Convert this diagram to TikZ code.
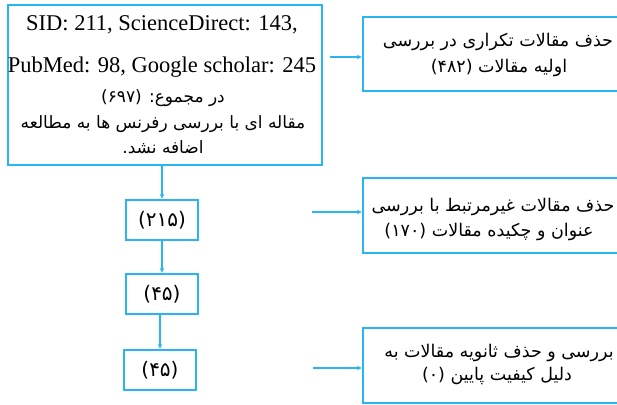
\documentclass[tikz,border=0pt]{standalone}
\usepackage{fontspec}
\setmainfont{Liberation Serif}
\newfontfamily\fa[Script=Arabic]{DejaVu Sans}
\TeXXeTstate=1
\usetikzlibrary{arrows.meta}
\definecolor{lineblue}{RGB}{41,182,240}
\tikzset{
  box/.style={draw=lineblue, line width=1.3pt, rectangle, inner sep=0pt},
  arr/.style={draw=lineblue, line width=1.1pt, -{Latex[length=5pt,width=4.5pt]}},
  en/.style={anchor=base, inner sep=0pt, font=\fontsize{22.5}{26}\selectfont},
  faline/.style={anchor=base, inner sep=0pt, font=\fa\fontsize{17}{20}\selectfont},
  rline/.style={anchor=base, inner sep=0pt, font=\fa\fontsize{17.5}{20}\selectfont},
  numtext/.style={inner sep=0pt, font=\fa\fontsize{20}{22}\selectfont}
}
\begin{document}
\begin{tikzpicture}[x=1pt,y=-1pt]
\useasboundingbox (0,0) rectangle (617,404);
\begin{scope}
\clip (0,0) rectangle (617,404);
% main box
\node[box, minimum width=314pt, minimum height=160pt] (big) at (165,85) {};
\node[en] (l1) at (162,30.5) {SID: 211, ScienceDirect: 143,};
\node[en] (l2) at (162,72) {PubMed: 98, Google scholar: 245};
\node[faline] (l3) at (163,102) {\beginR در مجموع: (۶۹۷)\endR};
\node[faline] (l4) at (163,128) {\beginR مقاله ای با بررسی رفرنس ها به مطالعه\endR};
\node[faline] (l5) at (163,153) {\beginR اضافه نشد.\endR};
% count boxes
\node[box, minimum width=72pt, minimum height=40pt] (b1) at (162,220) {};
\node[numtext] (t1) at (b1) {\beginR(۲۱۵)\endR};
\node[box, minimum width=72pt, minimum height=40pt] (b2) at (162,294) {};
\node[numtext] (t2) at (b2) {\beginR(۴۵)\endR};
\node[box, minimum width=72pt, minimum height=40pt] (b3) at (160,370) {};
\node[numtext] (t3) at (b3) {\beginR(۴۵)\endR};
% right boxes
\node[box, minimum width=277pt, minimum height=74pt] (r1) at (501.5,54) {};
\node[rline] (r1a) at (498,47) {\beginR حذف مقالات تکراری در بررسی\endR};
\node[rline] (r1b) at (499,72) {\beginR اولیه مقالات  (۴۸۲)\endR};
\node[box, minimum width=277pt, minimum height=75pt] (r2) at (501.5,215.5) {};
\node[rline] (r2a) at (493,211) {\beginR حذف مقالات غیرمرتبط با بررسی\endR};
\node[rline] (r2b) at (489,236) {\beginR عنوان و چکیده مقالات (۱۷۰)\endR};
\node[box, minimum width=277pt, minimum height=75pt] (r3) at (501.5,365.5) {};
\node[rline] (r3a) at (499,357) {\beginR بررسی و حذف ثانویه مقالات به\endR};
\node[rline] (r3b) at (497,380) {\beginR دلیل کیفیت پایین (۰)\endR};
\end{scope}
% connectors
\coordinate (s1) at (330,57);
\coordinate (s2) at (312,212);
\coordinate (s3) at (313,368);
\draw[arr] (s1) -- (s1 -| r1.west);
\draw[arr] (s2) -- (s2 -| r2.west);
\draw[arr] (s3) -- (s3 -| r3.west);
\draw[arr] (b1.north |- big.south) -- (b1.north);
\draw[arr] (b1.south) -- (b2.north);
\draw[arr] (b3.north |- b2.south) -- (b3.north);
\end{tikzpicture}
\end{document}
